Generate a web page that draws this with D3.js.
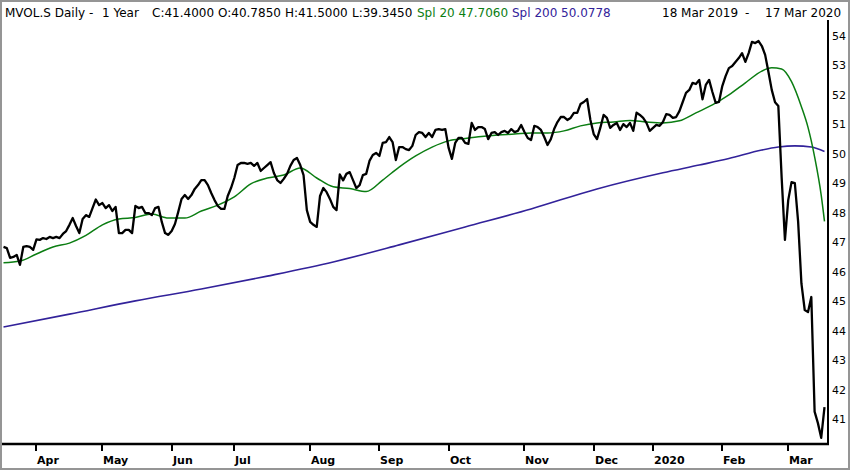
<!DOCTYPE html>
<html><head><meta charset="utf-8">
<script src="https://cdn.jsdelivr.net/npm/d3@7"></script>
<style>
body{margin:0;background:#fff}
svg{display:block}
text{font-family:"DejaVu Sans",Verdana,sans-serif}
</style>
</head><body>
<svg id="c" width="850" height="470"></svg>
<script>
// ---------- data ----------
const startDate = "2019-03-18";
const endDate = "2020-03-17";
const holidays = ["2019-04-19","2019-04-22","2019-05-01","2019-05-30","2019-06-10","2019-08-01",
  "2019-12-24","2019-12-25","2019-12-26","2019-12-31","2020-01-01","2020-01-02"];

const closes = [
  46.84,46.80,46.47,46.50,46.57,46.23,46.84,46.87,46.84,46.74,
  47.10,47.08,47.14,47.11,47.18,47.14,47.18,47.14,47.28,47.38,
  47.59,47.82,47.55,47.31,47.79,47.92,47.86,48.16,48.45,48.26,
  48.33,48.16,48.26,48.06,48.20,47.31,47.31,47.42,47.42,47.31,
  48.23,48.16,48.20,47.99,47.99,47.92,48.16,48.20,47.69,47.31,
  47.25,47.38,47.62,48.03,48.47,48.60,48.47,48.60,48.81,48.94,
  49.11,49.11,48.94,48.67,48.43,48.23,48.13,48.13,48.57,48.84,
  49.18,49.62,49.69,49.69,49.66,49.69,49.59,49.69,49.42,49.52,
  49.62,49.72,49.35,49.11,49.01,49.15,49.32,49.59,49.79,49.86,
  49.62,49.28,48.09,47.69,47.59,47.52,48.57,48.84,48.70,48.47,
  48.20,48.09,49.30,49.10,49.32,49.38,49.11,48.84,48.94,49.28,
  49.32,49.76,49.96,50.03,49.93,50.37,50.40,50.57,50.40,49.79,
  50.23,50.23,50.16,50.13,50.27,50.64,50.74,50.71,50.57,50.71,
  50.57,50.81,50.84,50.81,50.84,50.20,49.83,50.37,50.54,50.54,
  50.37,50.34,51.05,50.81,50.91,50.91,50.84,50.50,50.71,50.74,
  50.64,50.74,50.78,50.71,50.84,50.74,50.78,50.98,50.74,50.54,
  50.47,50.95,50.91,50.81,50.57,50.30,50.50,50.84,51.08,51.25,
  51.25,51.15,51.22,51.39,51.39,51.69,51.76,51.86,51.15,50.67,
  50.50,50.88,51.32,51.22,50.88,50.98,51.05,50.81,51.01,50.91,
  51.05,50.78,51.40,51.32,51.22,51.05,50.78,50.88,50.98,50.95,
  51.08,51.35,51.32,51.22,51.25,51.45,51.76,52.07,52.17,52.41,
  52.37,52.51,51.85,52.34,52.51,52.10,51.73,51.76,52.30,52.64,
  52.91,52.98,53.12,53.25,53.42,53.12,53.42,53.80,53.76,53.83,
  53.66,53.36,52.78,52.17,51.75,51.62,49.20,47.08,48.43,49.04,
  49.01,47.70,45.60,44.70,44.63,45.14,41.25,40.86,40.36,41.40
];

// [trading-day number, value]
const sma20 = [
  [0,46.30],[5,46.36],[10,46.60],[15,46.84],[20,46.97],[25,47.23],[30,47.59],[35,47.79],
  [40,47.84],[45,47.96],[50,47.82],[55,47.82],[60,48.06],[65,48.26],[70,48.54],[75,48.98],
  [80,49.18],[85,49.28],[90,49.52],[95,49.18],[100,48.88],[105,48.82],[110,48.72],[115,49.11],
  [120,49.55],[125,49.93],[130,50.23],[135,50.44],[140,50.52],[145,50.59],[150,50.64],[155,50.67],
  [160,50.71],[165,50.71],[170,50.78],[175,50.95],[180,51.05],[185,51.08],[190,51.13],[195,51.08],
  [200,51.05],[205,51.12],[210,51.39],[215,51.66],[220,52.00],[225,52.41],[230,52.81],[233,52.92],
  [236,52.88],[239,52.45],[242,51.60],[244,50.90],[246,49.90],[248,48.60],[249,47.71]
];
const sma200 = [
  [0,44.12],[20,44.56],[40,45.01],[60,45.41],[80,45.85],[100,46.33],[120,46.91],[140,47.52],
  [160,48.13],[180,48.81],[200,49.36],[211,49.62],[220,49.84],[230,50.13],[235,50.23],
  [240,50.27],[245,50.23],[249,50.08]
];

const yTicks = [41,42,43,44,45,46,47,48,49,50,51,52,53,54];
const xTickLabels = ["Apr","May","Jun","Jul","Aug","Sep","Oct","Nov","Dec","2020","Feb","Mar"];

const titleText = "MVOL.S Daily -";
const periodText = "1 Year";
const ohlc = ["C:41.4000","O:40.7850","H:41.5000","L:39.3450"];
const sma20Label = "Spl 20 47.7060";
const sma200Label = "Spl 200 50.0778";
const rangeFrom = "18 Mar 2019", rangeTo = "17 Mar 2020";

// ---------- drawing ----------
const svg = d3.select("#c");
const W = 850, H = 470;
const GREEN = "#0b7d12", PURPLE = "#32229a";

svg.append("rect").attr("x",0).attr("y",0).attr("width",W).attr("height",H).attr("fill","#fff");
svg.append("rect").attr("x",1).attr("y",1).attr("width",W-2).attr("height",H-2)
  .attr("fill","none").attr("stroke","#959595").attr("stroke-width",2);

// trading calendar
const fmt = d3.utcFormat("%Y-%m-%d");
const parse = d3.utcParse("%Y-%m-%d");
const hol = new Set(holidays);
const days = d3.utcDay.range(parse(startDate), d3.utcDay.offset(parse(endDate), 1))
  .filter(d => d.getUTCDay() % 6 !== 0 && !hol.has(fmt(d)));

const n = closes.length;
const x = d3.scaleLinear().domain([0, n - 1]).range([3.5, 824.5]);
const y = d3.scaleLinear().domain([41, 54]).range([419, 36]);

const monthStarts = [];
for (let i = 1; i < days.length && i < n; i++) {
  if (days[i].getUTCMonth() !== days[i-1].getUTCMonth()) monthStarts.push(i);
}

// SMA 200
svg.append("path").datum(sma200)
  .attr("d", d3.line().x(d => x(d[0])).y(d => y(d[1])).curve(d3.curveMonotoneX))
  .attr("fill","none").attr("stroke",PURPLE).attr("stroke-width",1.6);

// SMA 20
svg.append("path").datum(sma20)
  .attr("d", d3.line().x(d => x(d[0])).y(d => y(d[1])).curve(d3.curveMonotoneX))
  .attr("fill","none").attr("stroke",GREEN).attr("stroke-width",1.5);

// price
svg.append("path").datum(closes)
  .attr("d", d3.line().x((d,i) => x(i)).y(d => y(d)))
  .attr("fill","none").attr("stroke","#000").attr("stroke-width",2.3)
  .attr("stroke-linejoin","round");

// right axis
const axisX = 828, axisY = 444;
svg.append("line").attr("x1",axisX).attr("x2",axisX).attr("y1",20).attr("y2",axisY+1)
  .attr("stroke","#000").attr("stroke-width",2);
const ra = svg.append("g").attr("transform",`translate(${axisX},0)`)
  .call(d3.axisRight(y).tickValues(yTicks).tickSize(0).tickPadding(4).tickFormat(d3.format("d")));
ra.select(".domain").remove();
ra.selectAll("text").attr("font-size",11).attr("fill","#000")
  .attr("font-family","DejaVu Sans, sans-serif");

// bottom axis
svg.append("line").attr("x1",2).attr("x2",axisX+1).attr("y1",axisY).attr("y2",axisY)
  .attr("stroke","#000").attr("stroke-width",2.3);
const xt = svg.append("g");
monthStarts.forEach((idx, k) => {
  const tx = Math.round(x(idx));
  xt.append("line").attr("x1",tx).attr("x2",tx).attr("y1",axisY).attr("y2",axisY+7)
    .attr("stroke","#000").attr("stroke-width",2);
  xt.append("text").attr("x",tx+1).attr("y",464).attr("font-size",11).attr("font-weight","bold")
    .attr("fill","#000").text(xTickLabels[k] || "");
});

// header
const hy = 16.5;
const hdr = svg.append("g").attr("font-size",12);
hdr.append("text").attr("x",5).attr("y",hy).attr("fill","#000").text(titleText);
hdr.append("text").attr("x",102).attr("y",hy).attr("fill","#000").text(periodText);
const ohlcX = [152, 218, 285, 352];
ohlc.forEach((t,i) => hdr.append("text").attr("x",ohlcX[i]).attr("y",hy).attr("fill","#000").text(t));
hdr.append("text").attr("x",417).attr("y",hy).attr("fill",GREEN).text(sma20Label);
hdr.append("text").attr("x",512).attr("y",hy).attr("fill",PURPLE).text(sma200Label);
hdr.append("text").attr("x",662).attr("y",hy).attr("fill","#000").text(rangeFrom);
hdr.append("text").attr("x",745).attr("y",hy).attr("fill","#000").text("-");
hdr.append("text").attr("x",765).attr("y",hy).attr("fill","#000").text(rangeTo);
</script>
</body></html>
